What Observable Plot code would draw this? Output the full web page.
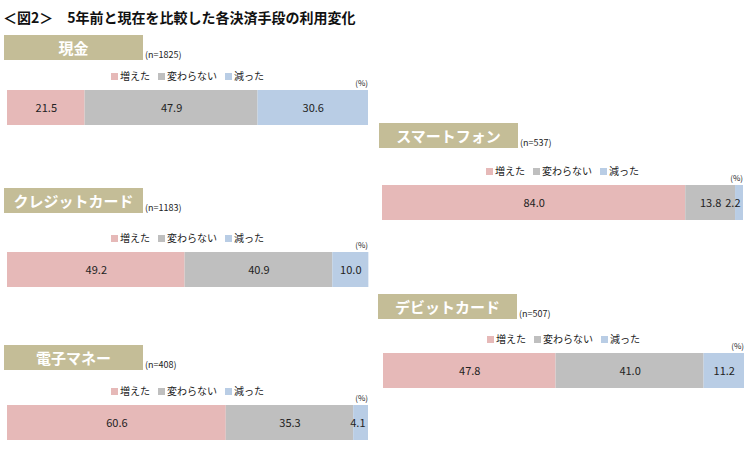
<!DOCTYPE html>
<html><head><meta charset="utf-8">
<script src="https://cdn.jsdelivr.net/npm/d3@7"></script>
<script src="https://cdn.jsdelivr.net/npm/@observablehq/plot@0.6"></script>
<style>
body{margin:0;background:#fff;font-family:"Noto Sans CJK JP","Noto Sans",sans-serif;}
#root{position:relative;width:750px;height:456px;overflow:hidden;background:#fff;}
.abs{position:absolute;white-space:nowrap;}
.title{left:3px;top:7px;font-size:14px;font-weight:bold;color:#111;line-height:20px;}
.box{background:#c4bd97;color:#fff;font-weight:bold;font-size:15px;text-align:center;line-height:25px;height:25px;width:139px;}
.n{font-size:9px;color:#222;}
.legend{font-size:10px;color:#222;text-align:center;line-height:12px;}
.legend span.sw{display:inline-block;width:7px;height:7px;margin-right:2px;vertical-align:0px;}
.legend span.it{margin:0 4px;}
.pct{font-size:8px;color:#222;text-align:right;}
</style></head>
<body><div id="root"></div>
<script>
const methods = ["現金","クレジットカード","電子マネー","スマートフォン","デビットカード"];
const sampleSizes = [1825,1183,408,537,507];
const categories = ["増えた","変わらない","減った"];
const increased = [21.5,49.2,60.6,84.0,47.8];
const unchanged = [47.9,40.9,35.3,13.8,41.0];
const decreased = [30.6,10.0,4.1,2.2,11.2];
const colors = ["#e6b9b8","#bfbfbf","#b9cde5"];

const layout = [
  {left:4, boxTop:35, barLeft:7, barTop:90},
  {left:4, boxTop:188, barLeft:7, barTop:252},
  {left:4, boxTop:345, barLeft:7, barTop:405},
  {left:379, boxTop:123, barLeft:382, barTop:185},
  {left:378, boxTop:294, barLeft:383, barTop:353}
];
const barW = 361, barH = 35;

const root = document.getElementById("root");
function el(cls, css, html){
  const d = document.createElement("div");
  d.className = "abs " + cls;
  Object.assign(d.style, css);
  d.innerHTML = html;
  root.appendChild(d);
  return d;
}
el("title", {}, "＜図2＞　5年前と現在を比較した各決済手段の利用変化");

methods.forEach((m, i) => {
  const L = layout[i];
  el("box", {left:L.left+"px", top:L.boxTop+"px"}, m);
  el("n", {left:(L.left+141)+"px", top:(L.boxTop+13)+"px"}, "(n=" + sampleSizes[i] + ")");
  const leg = categories.map((c, k) => `<span class="it"><span class="sw" style="background:${colors[k]}"></span>${c}</span>`).join("");
  el("legend", {left:L.barLeft+"px", width:barW+"px", top:(L.barTop-20)+"px"}, leg);
  el("pct", {left:L.barLeft+"px", width:barW+"px", top:(L.barTop-13)+"px"}, "(%)");

  const rows = categories.map((c, k) => ({cat:c, value:[increased, unchanged, decreased][k][i]}));
  const lbl = d => d.value.toFixed(1);
  const chart = Plot.plot({
    width: barW, height: barH, margin: 0,
    x: {domain:[0,100], axis:null},
    color: {domain: categories, range: colors},
    style: {fontFamily: '"Noto Sans CJK JP", sans-serif', fontSize: "11px", overflow: "visible"},
    marks: [
      Plot.barX(rows, Plot.stackX({x:"value", z:"cat", fill:"cat", order: categories})),
      Plot.text(rows, Plot.stackX({x:"value", z:"cat", order: categories, text: d => d.value >= 5 ? lbl(d) : "", fill:"#222"})),
      Plot.text(rows, Plot.stackX2({x:"value", z:"cat", order: categories, text: d => d.value < 5 ? lbl(d) : "", fill:"#222", textAnchor:"end", dx:-3}))
    ]
  });
  const wrap = el("", {left:L.barLeft+"px", top:L.barTop+"px"}, "");
  wrap.appendChild(chart);
});
</script></body></html>
